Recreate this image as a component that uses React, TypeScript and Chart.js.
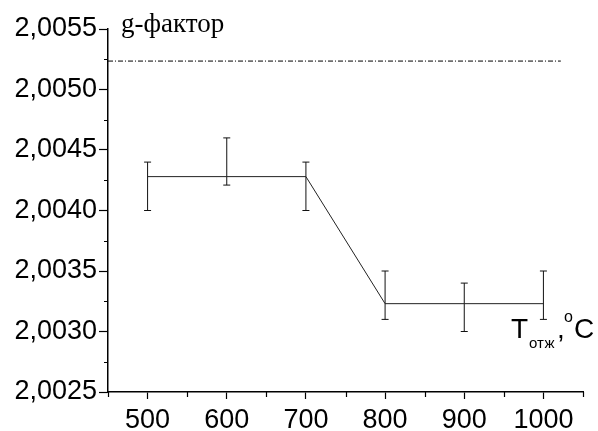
import React, { useEffect, useRef } from "react";
import { Chart, registerables } from "chart.js";

Chart.register(...registerables);

// ---- data ----
const temps = [500, 600, 700, 800, 900, 1000];
const gValues = [2.00428, 2.00428, 2.00428, 2.00323, 2.00323, 2.00323];
const errLow = [2.0040, 2.00421, 2.0040, 2.0031, 2.0030, 2.0031];
const errHigh = [2.0044, 2.0046, 2.0044, 2.0035, 2.0034, 2.0035];
const refLevel = 2.005235;
const refRange = [450, 1022];
const xMajorTicks = [500, 600, 700, 800, 900, 1000];
const xMinorTicks = [450, 550, 650, 750, 850, 950, 1050];
const yMajorTicks = [2.0025, 2.003, 2.0035, 2.004, 2.0045, 2.005, 2.0055];
const yMinorTicks = [2.00275, 2.00325, 2.00375, 2.00425, 2.00475, 2.00525];

const FONT = '"Liberation Sans", Arial, sans-serif';
const SERIF = '"Liberation Serif", "Times New Roman", serif';

const extras = {
  id: "extras",
  afterDraw(chart: any) {
    const ctx = chart.ctx;
    const xs = chart.scales.x;
    const ys = chart.scales.y;
    const area = chart.chartArea;
    ctx.save();
    ctx.strokeStyle = "#000";
    ctx.lineWidth = 1.2;
    ctx.beginPath();
    for (const v of yMinorTicks) {
      const p = Math.round(ys.getPixelForValue(v)) + 0.5;
      ctx.moveTo(area.left, p);
      ctx.lineTo(area.left - 4, p);
    }
    for (const v of xMinorTicks) {
      const p = Math.round(xs.getPixelForValue(v)) + 0.5;
      ctx.moveTo(p, area.bottom);
      ctx.lineTo(p, area.bottom + 5);
    }
    ctx.stroke();

    ctx.fillStyle = "#000";
    ctx.textBaseline = "alphabetic";
    ctx.textAlign = "left";
    // g-factor label
    ctx.font = "27px " + SERIF;
    ctx.fillText("g-фактор", area.left + 13, 32);

    // T_отж,°C label
    const base = 338;
    ctx.font = "28px " + FONT;
    ctx.fillText("T", 511, base);
    ctx.font = "15px " + FONT;
    ctx.fillText("отж", 529, base + 10);
    ctx.font = "28px " + FONT;
    ctx.fillText(",", 557, base);
    ctx.font = "16px " + FONT;
    ctx.fillText("o", 564, base - 16);
    ctx.font = "28px " + FONT;
    ctx.fillText("C", 574, base);
    ctx.restore();
  },
};

export default function App() {
  const ref = useRef<HTMLCanvasElement>(null);
  useEffect(() => {
    if (!ref.current) return;
    const errorSets = temps.map((t, i) => ({
      type: "line" as const,
      data: [
        { x: t, y: errLow[i] },
        { x: t, y: errHigh[i] },
      ],
      borderColor: "#111",
      borderWidth: 1,
      pointStyle: "line" as const,
      pointRadius: 3.5,
      pointBorderColor: "#111",
      pointBorderWidth: 1,
      showLine: true,
    }));
    const chart = new Chart(ref.current, {
      type: "line",
      data: {
        datasets: [
          {
            data: [
              { x: refRange[0], y: refLevel },
              { x: refRange[1], y: refLevel },
            ],
            borderColor: "#000",
            borderWidth: 1,
            borderDash: [5, 2, 1, 2],
            pointRadius: 0,
          },
          {
            data: temps.map((t, i) => ({ x: t, y: gValues[i] })),
            borderColor: "#222",
            borderWidth: 1,
            pointRadius: 0,
          },
          ...errorSets,
        ],
      },
      options: {
        animation: false,
        responsive: true,
        maintainAspectRatio: false,
        layout: { padding: { top: 29, right: 15, left: 0, bottom: 0 } },
        plugins: {
          legend: { display: false },
          tooltip: { enabled: false },
          title: { display: false },
        },
        scales: {
          x: {
            type: "linear",
            min: 450,
            max: 1050,
            afterBuildTicks: (s: any) => {
              s.ticks = xMajorTicks.map((v) => ({ value: v }));
            },
            afterFit: (s: any) => {
              s.height = 39;
            },
            ticks: {
              autoSkip: false,
              maxRotation: 0,
              padding: 5,
              color: "#000",
              font: { family: FONT, size: 27 },
              callback: (v: any) => String(v),
            },
            grid: {
              display: true,
              drawOnChartArea: false,
              drawTicks: true,
              tickLength: 7,
              tickColor: "#000",
              tickWidth: 1.2,
            },
            border: { display: true, color: "#000", width: 1.5 },
          },
          y: {
            type: "linear",
            min: 2.0025,
            max: 2.0055,
            afterBuildTicks: (s: any) => {
              s.ticks = yMajorTicks.map((v) => ({ value: v }));
            },
            afterFit: (s: any) => {
              s.width = 108;
            },
            ticks: {
              autoSkip: false,
              padding: 2,
              color: "#000",
              font: { family: FONT, size: 27 },
              callback: (v: any) => Number(v).toFixed(4).replace(".", ","),
            },
            grid: {
              display: true,
              drawOnChartArea: false,
              drawTicks: true,
              tickLength: 9,
              tickColor: "#000",
              tickWidth: 1.2,
            },
            border: { display: true, color: "#000", width: 1.5 },
          },
        },
      },
      plugins: [extras],
    });
    return () => chart.destroy();
  }, []);
  return (
    <div style={{ position: "absolute", left: 0, top: 0, width: 598, height: 431, background: "#fff" }}>
      <canvas ref={ref} />
    </div>
  );
}
